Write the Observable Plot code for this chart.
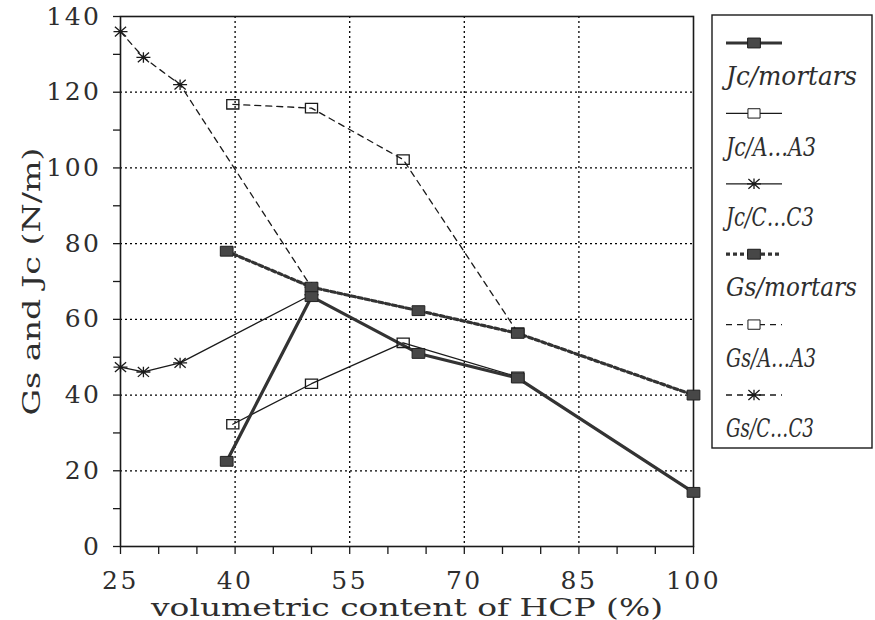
<!DOCTYPE html>
<html>
<head>
<meta charset="utf-8">
<script src="https://cdn.jsdelivr.net/npm/d3@7"></script>
<script src="https://cdn.jsdelivr.net/npm/@observablehq/plot@0.6"></script>
<style>
  html, body { margin: 0; padding: 0; background: #fff; }
  #chart { width: 875px; height: 620px; }
</style>
</head>
<body>
<div id="chart"></div>
<script>
// ---- data ----
const seriesNames = ["Jc/mortars", "Jc/A\u2026A3", "Jc/C\u2026C3", "Gs/mortars", "Gs/A\u2026A3", "Gs/C\u2026C3"];
const mortarsX = [38.9, 50, 64, 77, 100];
const jcMortars = [22.5, 66, 51, 44.5, 14.3];
const gsMortars = [78, 68.5, 62.3, 56.3, 40];
const aX = [39.7, 50, 62, 77];
const jcA = [32.3, 43, 53.8, 44.8];
const gsA = [116.8, 115.8, 102.2, 56.5];
const cX = [25, 28, 32.8, 50];
const jcC = [47.4, 46.1, 48.5, 66.5];
const gsC = [136, 129.2, 122, 68.5];

const xMajor = [25, 40, 55, 70, 85, 100];
const xMinor = [25, 30, 35, 40, 45, 50, 55, 60, 65, 70, 75, 80, 85, 90, 95, 100];
const xGrid = [40, 55, 70, 85];
const yMajor = [0, 20, 40, 60, 80, 100, 120, 140];
const yMinor = [10, 30, 50, 70, 90, 110, 130];
const yGrid = [20, 40, 60, 80, 100, 120];
const xTitle = "volumetric content of HCP (%)";
const yTitle = "Gs and Jc (N/m)";

// ---- build tables ----
const toRows = (xs, ys) => xs.map((x, i) => ({x, y: ys[i]}));
const rows = {
  jcM: toRows(mortarsX, jcMortars),
  gsM: toRows(mortarsX, gsMortars),
  jcA: toRows(aX, jcA),
  gsA: toRows(aX, gsA),
  jcC: toRows(cX, jcC),
  gsC: toRows(cX, gsC)
};

// custom symbols
const rectSym = {
  draw(ctx, size) {
    const r = Math.sqrt(size / Math.PI);
    ctx.moveTo(-r * 1.1, -r * 0.85);
    ctx.lineTo(r * 1.1, -r * 0.85);
    ctx.lineTo(r * 1.1, r * 0.85);
    ctx.lineTo(-r * 1.1, r * 0.85);
    ctx.closePath();
  }
};
const starSym = {
  draw(ctx, size) {
    const r = Math.sqrt(size / Math.PI);
    ctx.moveTo(-r, 0); ctx.lineTo(r, 0);
    ctx.moveTo(0, -r * 0.75); ctx.lineTo(0, r * 0.75);
    ctx.moveTo(-r * 0.8, -r * 0.7); ctx.lineTo(r * 0.8, r * 0.7);
    ctx.moveTo(-r * 0.8, r * 0.7); ctx.lineTo(r * 0.8, -r * 0.7);
  }
};

const INK = "#1a1a1a";
const TXT = "#2e2e2e";
const FILL = "#474747";
const styles = {
  jcM: {stroke: "#333", strokeWidth: 3.2, strokeDasharray: null},
  gsM: {stroke: "#333", strokeWidth: 3.2, strokeDasharray: "4,3"},
  jcA: {stroke: INK, strokeWidth: 1.3, strokeDasharray: null},
  gsA: {stroke: INK, strokeWidth: 1.3, strokeDasharray: "6,5"},
  jcC: {stroke: INK, strokeWidth: 1.3, strokeDasharray: null},
  gsC: {stroke: INK, strokeWidth: 1.3, strokeDasharray: "6,5"}
};
const lineMark = (k) => Plot.line(rows[k], {x: "x", y: "y", stroke: styles[k].stroke, strokeWidth: styles[k].strokeWidth, strokeDasharray: styles[k].strokeDasharray || undefined});

const chart = Plot.plot({
  width: 875,
  height: 620,
  marginLeft: 120,
  marginRight: 182,
  marginTop: 16,
  marginBottom: 74,
  x: {domain: [25, 100], label: null},
  y: {domain: [0, 140], label: null},
  style: {fontFamily: "'DejaVu Serif', serif", fontSize: "25px", color: TXT, background: "#fff", overflow: "visible"},
  marks: [
    Plot.gridY(yGrid, {stroke: "#000", strokeOpacity: 1, strokeWidth: 1.3, strokeDasharray: "2,3"}),
    Plot.gridX(xGrid, {stroke: "#000", strokeOpacity: 1, strokeWidth: 1.3, strokeDasharray: "2,3"}),
    Plot.frame({stroke: INK, strokeWidth: 1.6}),
    Plot.axisX(xMinor, {tickSize: 8, tickFormat: () => "", stroke: INK, strokeWidth: 1.3, label: null}),
    Plot.axisX(xMajor, {tickSize: 0, tickPadding: 25, tickFormat: d => String(d), fontSize: 25, fill: TXT, label: null}),
    Plot.axisY(yMinor, {tickSize: 7, tickFormat: () => "", stroke: INK, strokeWidth: 1.3, label: null}),
    Plot.axisY(yMajor, {tickSize: 7, tickPadding: 12, tickFormat: d => String(d), fontSize: 25, stroke: INK, fill: TXT, strokeWidth: 1.3, label: null}),
    Plot.text([xTitle], {frameAnchor: "bottom", dy: 61, lineAnchor: "middle", textAnchor: "middle", fontSize: 25, fill: TXT, text: d => d}),
    Plot.text([yTitle], {frameAnchor: "left", dx: -89, rotate: -90, lineAnchor: "middle", textAnchor: "middle", fontSize: 25, fill: TXT, text: d => d}),
    lineMark("gsC"), lineMark("gsA"), lineMark("jcC"), lineMark("jcA"),
    lineMark("gsM"), lineMark("jcM"),
    Plot.dot(rows.jcC, {x: "x", y: "y", symbol: starSym, r: 7, stroke: INK, strokeWidth: 1.3}),
    Plot.dot(rows.gsC, {x: "x", y: "y", symbol: starSym, r: 7, stroke: INK, strokeWidth: 1.3}),
    Plot.dot(rows.jcA, {x: "x", y: "y", symbol: rectSym, r: 5.5, stroke: INK, fill: "none", strokeWidth: 1.3}),
    Plot.dot(rows.gsA, {x: "x", y: "y", symbol: rectSym, r: 5.5, stroke: INK, fill: "none", strokeWidth: 1.3}),
    Plot.dot(rows.gsM, {x: "x", y: "y", symbol: rectSym, r: 5.8, stroke: "#222", fill: FILL, strokeWidth: 1}),
    Plot.dot(rows.jcM, {x: "x", y: "y", symbol: rectSym, r: 5.8, stroke: "#222", fill: FILL, strokeWidth: 1})
  ]
});

document.getElementById("chart").appendChild(chart);

// text tweaks: letter spacing & fitted titles
const svg = d3.select(chart);
svg.selectAll("text").attr("letter-spacing", "2.5px");
svg.selectAll("text").filter(function() { return this.textContent === xTitle; })
  .attr("textLength", 512).attr("lengthAdjust", "spacingAndGlyphs").attr("letter-spacing", null);
svg.selectAll("text").filter(function() { return this.textContent === yTitle; })
  .attr("textLength", 268).attr("lengthAdjust", "spacingAndGlyphs").attr("letter-spacing", null);

// ---- legend ----
const legendKeys = ["jcM", "jcA", "jcC", "gsM", "gsA", "gsC"];
const legendSyms = [rectSym, rectSym, starSym, rectSym, rectSym, starSym];
const legendFill = [FILL, "none", "none", FILL, "none", "none"];
const legendWidths = [131, 90, 88, 131, 90, 88];
const lg = svg.append("g").attr("class", "legend").attr("text-anchor", "start");
lg.append("rect").attr("x", 712).attr("y", 15).attr("width", 160).attr("height", 433)
  .attr("fill", "#fff").attr("stroke", INK).attr("stroke-width", 1.4);
legendKeys.forEach((k, i) => {
  const yy = 43 + i * 70.4;
  const st = styles[k];
  lg.append("line").attr("x1", 726).attr("x2", 782).attr("y1", yy).attr("y2", yy)
    .attr("stroke", st.stroke).attr("stroke-width", st.strokeWidth)
    .attr("stroke-dasharray", st.strokeDasharray);
  const isStar = legendSyms[i] === starSym;
  const r = isStar ? 7 : (legendFill[i] === "none" ? 5.5 : 5.8);
  lg.append("path").attr("transform", `translate(754,${yy})`)
    .attr("d", d3.symbol(legendSyms[i], r * r * Math.PI)())
    .attr("fill", isStar ? "none" : (legendFill[i] === "none" ? "#fff" : FILL))
    .attr("stroke", INK).attr("stroke-width", isStar ? 1.3 : 1);
  lg.append("text").attr("x", 726).attr("y", yy + 33).attr("dy", "0.35em")
    .attr("text-anchor", "start")
    .attr("font-family", "'DejaVu Serif', serif").attr("font-style", "italic")
    .attr("font-size", 26).attr("fill", TXT)
    .attr("textLength", legendWidths[i]).attr("lengthAdjust", "spacingAndGlyphs")
    .text(seriesNames[i]);
});
</script>
</body>
</html>
